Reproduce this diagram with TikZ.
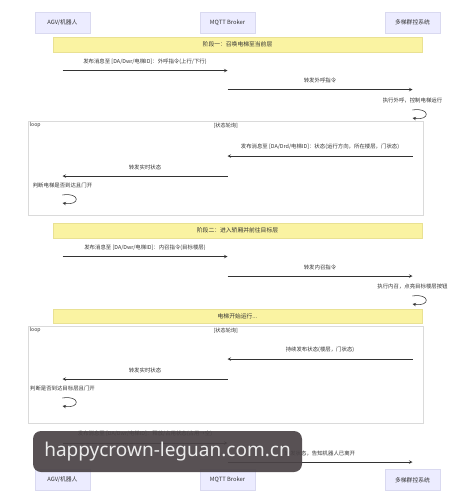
\documentclass[tikz,border=0pt]{standalone}
\usepackage{fontspec}
\setmainfont{Noto Sans CJK SC}
\newfontfamily\wmfont{Noto Sans}
\definecolor{act}{HTML}{ECECFF}
\definecolor{actln}{HTML}{D9D9F0}
\definecolor{nt}{HTML}{FAF3A2}
\definecolor{ntln}{HTML}{E9E193}
\definecolor{ink}{HTML}{333333}
\definecolor{lifeln}{HTML}{D2D2D2}
\definecolor{frm}{HTML}{DADADA}
\definecolor{wm}{HTML}{4A4346}
\tikzset{
    actor/.style = {
        rectangle,
        draw=actln,
        fill=act,
        minimum width=55pt,
        minimum height=21pt,
        text=ink,
        font=\fontsize{5.8}{7}\selectfont
    },
    note/.style = {rectangle, draw=ntln, fill=nt, minimum width=369pt,
        minimum height=15pt, text=ink, font=\fontsize{5.8}{7}\selectfont},
    msgtext/.style = {above=5.8pt, inner sep=0pt, text=ink,
        font=\fontsize{5.4}{6.5}\selectfont},
    selftext/.style = {above=7pt, inner sep=0pt, text=ink,
        font=\fontsize{5.4}{6.5}\selectfont},
    loopframe/.style = {rectangle, draw=frm, line width=0.5pt, anchor=north west,
        minimum width=395pt},
    looptag/.style = {inner sep=1.5pt, text=ink, font=\fontsize{5.2}{6}\selectfont},
    life/.style = {draw=lifeln, line width=0.6pt},
    msg/.style = {->, draw=ink, line width=0.55pt},
    wmark/.style = {fill=wm, fill opacity=0.92, text opacity=1,
        text=white!92!black, rounded corners=8pt, minimum width=269pt,
        minimum height=41pt, font=\wmfont\fontsize{19}{22}\selectfont},
    >=stealth  % arrow type
}
\pgfdeclarelayer{background}
\pgfsetlayers{background,main}

\begin{document}
\begin{tikzpicture}[x=1pt, y=-1pt]
  \useasboundingbox[fill=white] (0,0) rectangle (475,504);

  %% participants
  \node [actor] (agv) at (62.5,22.5) {AGV/机器人};
  \node [actor] (brk) at (227.5,22.5) {MQTT Broker};
  \node [actor] (sys) at (412.5,22.5) {多梯群控系统};

  \node [actor] (agvb) at (62.5,480) {AGV/机器人};
  \node [actor] (brkb) at (227.5,480) {MQTT Broker};
  \node [actor] (sysb) at (412.5,480) {多梯群控系统};

  \begin{pgfonlayer}{background}
    \draw [life] (agv) -- (agvb);
    \draw [life] (brk) -- (brkb);
    \draw [life] (sys) -- (sysb);
  \end{pgfonlayer}

  %% rows of the messages
  \coordinate (r1) at (0,70.5);
  \coordinate (r2) at (0,89.5);
  \coordinate (r3) at (0,110);
  \coordinate (r3b) at (0,118);
  \coordinate (r4) at (0,156);
  \coordinate (r5) at (0,176);
  \coordinate (r6) at (0,195);
  \coordinate (r6b) at (0,203);
  \coordinate (r7) at (0,256.5);
  \coordinate (r8) at (0,276);
  \coordinate (r9) at (0,296);
  \coordinate (r9b) at (0,304);
  \coordinate (r10) at (0,359);
  \coordinate (r11) at (0,379);
  \coordinate (r12) at (0,398);
  \coordinate (r12b) at (0,406);
  \coordinate (r13) at (0,443);
  \coordinate (r14) at (0,462);

  %% phase 1
  \node [note] (ph1) at (237.5,44.5) {阶段一：召唤电梯至当前层};

  \draw [msg] (agv |- r1) -- node [msgtext] (m1)
    {发布消息至 [DA/Dwr/电梯ID]：外呼指令(上行/下行)} (brk |- r1);
  \draw [msg] (brk |- r2) -- node [msgtext] (m2) {转发外呼指令} (sys |- r2);

  \node [selftext] (s1) at (sys |- r3) {执行外呼，控制电梯运行};
  \draw [msg] (sys |- r3) .. controls +(18,-3) and +(18,3) .. (sys |- r3b);

  %% loop 1
  \node [loopframe, minimum height=94pt] (L1) at (28,121) {};
  \node [looptag, anchor=north west] (L1tag) at (L1.north west) {loop};
  \node [looptag, anchor=north] (L1cond) at (L1.north) {[状态轮询]};

  \draw [msg] (sys |- r4) -- node [msgtext] (m3)
    {发布消息至 [DA/Drd/电梯ID]：状态(运行方向，所在楼层，门状态)} (brk |- r4);
  \draw [msg] (brk |- r5) -- node [msgtext] (m4) {转发实时状态} (agv |- r5);

  \node [selftext] (s2) at (agv |- r6) {判断电梯是否到达且门开};
  \draw [msg] (agv |- r6) .. controls +(18,-3) and +(18,3) .. (agv |- r6b);

  %% phase 2
  \node [note] (ph2) at (237.5,230.5) {阶段二：进入轿厢并前往目标层};

  \draw [msg] (agv |- r7) -- node [msgtext] (m5)
    {发布消息至 [DA/Dwr/电梯ID]：内召指令(目标楼层)} (brk |- r7);
  \draw [msg] (brk |- r8) -- node [msgtext] (m6) {转发内召指令} (sys |- r8);

  \node [selftext] (s3) at (sys |- r9) {执行内召，点亮目标楼层按钮};
  \draw [msg] (sys |- r9) .. controls +(18,-3) and +(18,3) .. (sys |- r9b);

  \node [note, minimum height=14pt] (ph3) at (237.5,316.5) {电梯开始运行...};

  %% loop 2
  \node [loopframe, minimum height=97pt] (L2) at (28,326) {};
  \node [looptag, anchor=north west] (L2tag) at (L2.north west) {loop};
  \node [looptag, anchor=north] (L2cond) at (L2.north) {[状态轮询]};

  \draw [msg] (sys |- r10) -- node [msgtext] (m7) {持续发布状态(楼层，门状态)} (brk |- r10);
  \draw [msg] (brk |- r11) -- node [msgtext] (m8) {转发实时状态} (agv |- r11);

  \node [selftext] (s4) at (agv |- r12) {判断是否到达目标层且门开};
  \draw [msg] (agv |- r12) .. controls +(18,-3) and +(18,3) .. (agv |- r12b);

  %% leaving
  \draw [msg] (agv |- r13) -- node [msgtext] (m9)
    {发布消息至 [DA/Dwr/电梯ID]：释放/占用状态(占用→空)} (brk |- r13);
  \draw [msg] (brk |- r14) -- node [msgtext] (m10) {转发状态，告知机器人已离开} (sys |- r14);

  %% watermark
  \node [wmark] (wmk) at (167.5,451.5) {happycrown-leguan.com.cn};

\end{tikzpicture}
\end{document}
